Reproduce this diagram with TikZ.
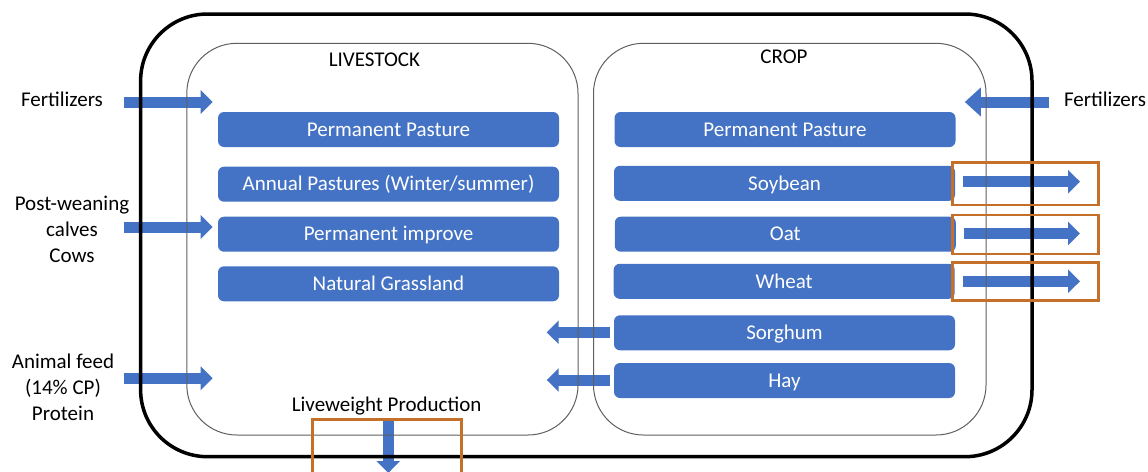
\documentclass[tikz,border=0pt]{standalone}
\usepackage{fontspec}
\setmainfont{Carlito}
\usetikzlibrary{arrows.meta}
\definecolor{barblue}{HTML}{4472C4}
\definecolor{outorange}{RGB}{196,112,40}
\definecolor{framegray}{HTML}{5F5F5F}

\begin{document}
\begin{tikzpicture}[x=1pt,y=-1pt,
  txt/.style={font=\fontsize{21}{26}\selectfont, inner sep=0pt, text height=13.5pt, text depth=0pt},
  multi/.style={font=\fontsize{21}{26}\selectfont, inner sep=0pt, align=center},
  bar/.style={txt, fill=barblue, text=white, rounded corners=6pt, minimum width=341pt, minimum height=35pt},
  flow/.style={draw=barblue, line width=11pt, -{Triangle[width=23pt,length=12pt]}},
  bigflow/.style={draw=barblue, line width=11pt, -{Triangle[width=28pt,length=16pt]}},
  sector/.style={draw=framegray, line width=1pt, rounded corners=50pt},
  farm/.style={draw=black, line width=3.5pt, rounded corners=67pt},
  outbox/.style={draw=outorange, line width=2.5pt}
]
\useasboundingbox (0,0) rectangle (1148,471);

% ---- livestock activities ----
\node[bar] (lpp)  at (388.5,129.5) {Permanent Pasture};
\node[bar] (lap)  at (388.5,184.2) {Annual Pastures (Winter/summer)};
\node[bar] (lpi)  at (388.5,234.2) {Permanent improve};
\node[bar] (lng)  at (388.5,283.8) {Natural Grassland};

% ---- crop activities ----
\node[bar] (cpp)  at (785,129.5) {Permanent Pasture};
\node[bar] (soy)  at (784.5,183.3) {Soybean};
\node[bar] (oat)  at (785.3,234.2) {Oat};
\node[bar] (wht)  at (784.2,281.3) {Wheat};
\node[bar] (sorg) at (784.5,332.8) {Sorghum};
\node[bar] (hay)  at (784.5,380.5) {Hay};

% ---- external inputs ----
\node[txt] (fertL) at (62,100) {Fertilizers};
\node[multi] (calves) at (72,229) {Post-weaning\\calves\\Cows};
\node[multi] (feed) at (63,387) {Animal feed\\(14\% CP)\\Protein};
\node[txt] (fertR) at (1105,100) {Fertilizers};

% ---- sector titles ----
\node[txt] (livT) at (374.5,60) {LIVESTOCK};
\node[txt] (cropT) at (784,57) {CROP};
\node[txt] (lwp) at (386.6,405) {Liveweight Production};

% ---- arrow end points ----
\coordinate (fertLs) at (124,102);
\coordinate (fertLe) at (212.7,102);
\coordinate (calvesS) at (124,227);
\coordinate (calvesE) at (212.7,227);
\coordinate (feedS) at (124,378.3);
\coordinate (feedE) at (212.7,378.3);
\coordinate (fertRs) at (1048.7,102);
\coordinate (fertRe) at (964.8,102);
\coordinate (soyE) at (1080,181.7);
\coordinate (oatE) at (1080,233.5);
\coordinate (whtE) at (1080,281.3);
\coordinate (sorgE) at (546.7,332.3);
\coordinate (hayE) at (546.7,380);
\coordinate (lwpS) at (388.3,419.3);
\coordinate (lwpE) at (388.3,473);

% ---- flows ----
\draw[flow] (fertLs) -- (fertLe);
\draw[flow] (calvesS) -- (calvesE);
\draw[flow] (feedS) -- (feedE);
\draw[bigflow] (fertRs) -- (fertRe);
\draw[flow] ([xshift=8pt]soy.east |- soyE) -- (soyE);
\draw[flow] ([xshift=8pt]oat.east |- oatE) -- (oatE);
\draw[flow] ([xshift=8pt]wht.east |- whtE) -- (whtE);
\draw[flow] ([xshift=-4pt]sorg.west |- sorgE) -- (sorgE);
\draw[flow] ([xshift=-4pt]hay.west |- hayE) -- (hayE);
\draw[flow] (lwpS) -- (lwpE);

% ---- sector frames and farm boundary ----
\draw[sector] (186.8,43.3) rectangle (578,435);
\draw[sector] (593.5,43.3) rectangle (986,435);
\draw[farm] (140.6,14) rectangle (1032,456.7);

% ---- output highlights ----
\draw[outbox] (952.7,162.3) rectangle (1098.3,205);
\draw[outbox] (952.7,215) rectangle (1098.3,254);
\draw[outbox] (952.7,262.7) rectangle (1098.3,300.7);
\draw[outbox] (312.7,476) |- (461.7,419.3) -- (461.7,476);
\end{tikzpicture}
\end{document}
